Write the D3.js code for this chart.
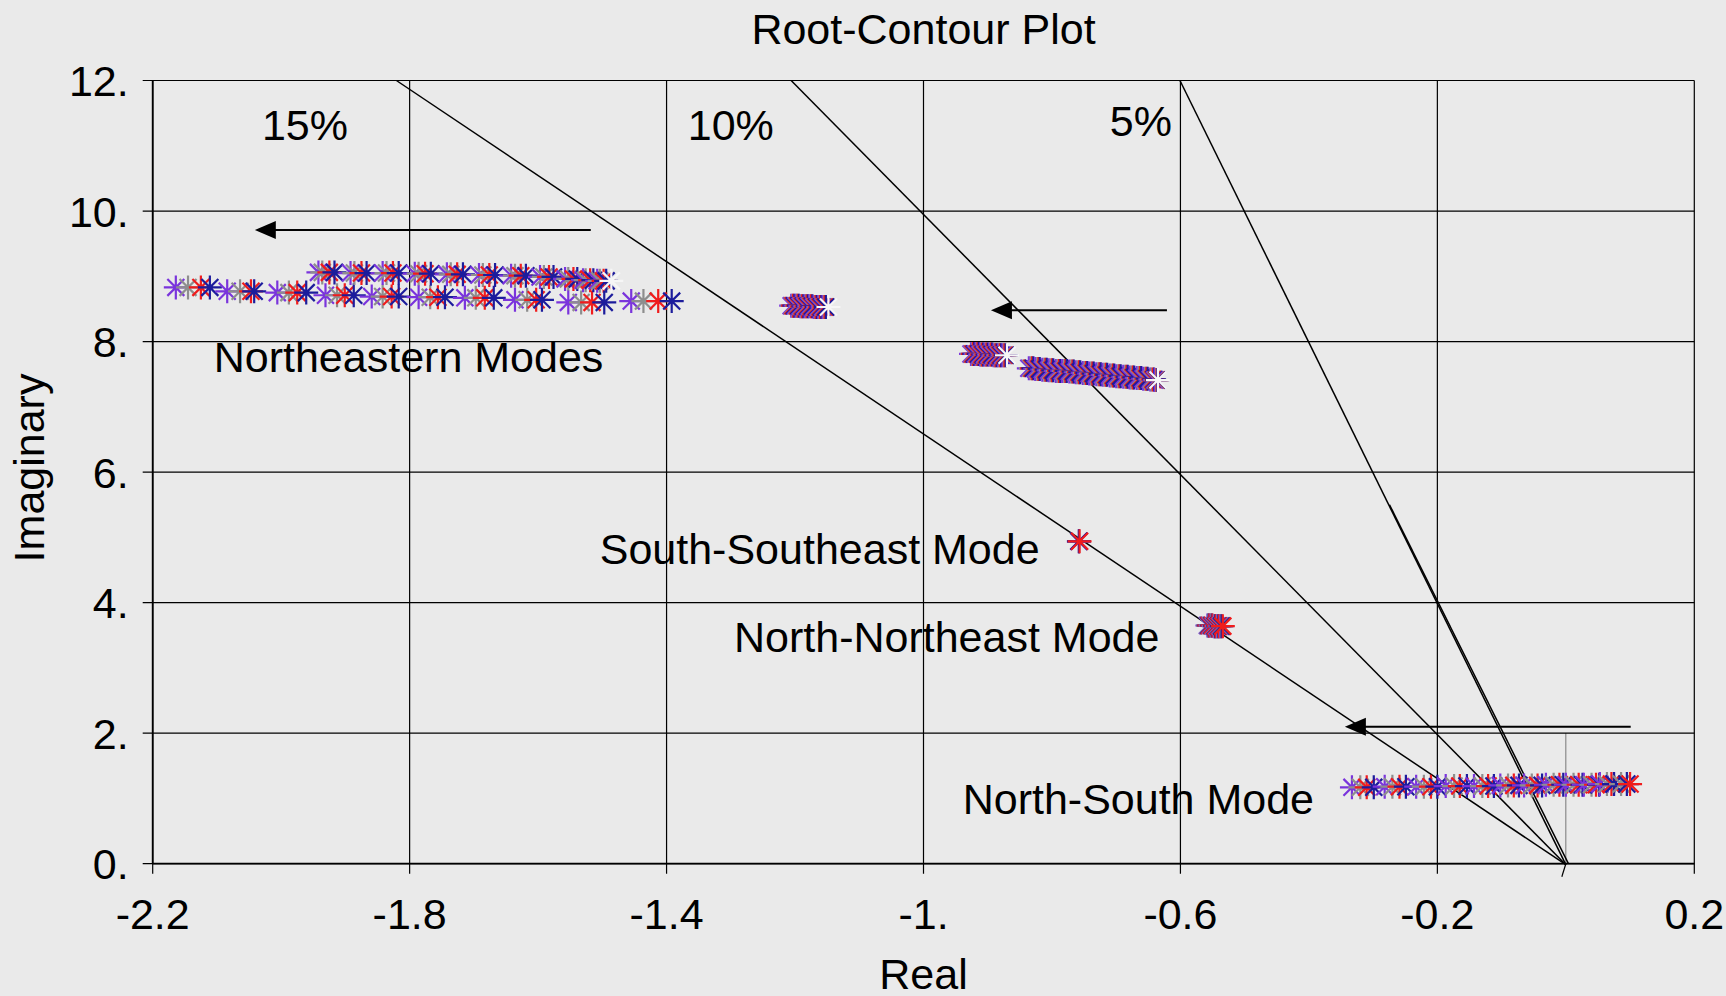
<!DOCTYPE html>
<html>
<head>
<meta charset="utf-8">
<script src="https://cdn.jsdelivr.net/npm/d3@7"></script>
<style>
  html, body { margin: 0; padding: 0; background: #eaeaea; }
  svg { display: block; }
  text { font-family: "Liberation Sans", Arial, sans-serif; fill: #000; }
</style>
</head>
<body>
<svg id="chart" width="1726" height="996"></svg>
<script>
// ---- axis ticks ----
const xTickValues = [-2.2, -1.8, -1.4, -1.0, -0.6, -0.2, 0.2];
const xTickLabels = ["-2.2", "-1.8", "-1.4", "-1.", "-0.6", "-0.2", "0.2"];
const yTickValues = [0, 2, 4, 6, 8, 10, 12];
const yTickLabels = ["0.", "2.", "4.", "6.", "8.", "10.", "12."];

// constant damping-ratio rays
const dampingRatios = [0.05, 0.10, 0.15];
// second trace running alongside the 5% ray near the origin
const ray5bStart = [0.004, 0.0];
const ray5bEnd = [-0.2745, 5.5];
// short marker line on the imaginary axis
const imagAxisTop = 2.0;

// ---- eigenvalue loci, one imaginary array per cluster and one real array per case ----
// Northeastern modes, lower branch
const neLowIm  = [8.83, 8.77, 8.75, 8.71, 8.69, 8.68, 8.67, 8.64, 8.60, 8.62];
const neLowReA = [-2.164, -2.084, -2.006, -1.931, -1.859, -1.786, -1.714, -1.636, -1.553, -1.455];
const neLowReB = [-2.145, -2.064, -1.988, -1.913, -1.842, -1.768, -1.697, -1.617, -1.533, -1.436];
const neLowReC = [-2.125, -2.047, -1.975, -1.901, -1.828, -1.756, -1.683, -1.603, -1.516, -1.413];
const neLowReD = [-2.111, -2.042, -1.961, -1.887, -1.817, -1.745, -1.669, -1.594, -1.497, -1.392];

// Northeastern modes, upper branch
const neUpIm  = [9.06, 9.05, 9.05, 9.04, 9.03, 9.02, 9.01, 8.99, 8.96, 8.94, 8.93];
const neUpReA = [-1.942, -1.892, -1.842, -1.792, -1.742, -1.692, -1.642, -1.597, -1.558, -1.530, -1.508];
const neUpReB = [-1.936, -1.886, -1.836, -1.786, -1.736, -1.686, -1.636, -1.591, -1.553, -1.526, -1.504];
const neUpReC = [-1.925, -1.875, -1.826, -1.776, -1.726, -1.676, -1.627, -1.583, -1.545, -1.519, -1.498];
const neUpReD = [-1.917, -1.867, -1.817, -1.767, -1.717, -1.667, -1.619, -1.576, -1.539, -1.514, -1.494];

// mode near 8.5 rad/s
const m85Im  = [8.55, 8.55, 8.54, 8.54, 8.54, 8.53, 8.53, 8.53];
const m85ReA = [-1.206, -1.199, -1.192, -1.185, -1.178, -1.171, -1.164, -1.157];
const m85ReB = [-1.204, -1.197, -1.190, -1.183, -1.176, -1.169, -1.162, -1.155];
const m85ReC = [-1.203, -1.196, -1.189, -1.182, -1.175, -1.168, -1.161, -1.154];
const m85ReD = [-1.201, -1.194, -1.187, -1.180, -1.173, -1.166, -1.159, -1.152];

// mode near 7.8 rad/s
const m78Im  = [7.81, 7.81, 7.80, 7.80, 7.80, 7.79, 7.79, 7.79];
const m78ReA = [-0.926, -0.919, -0.912, -0.905, -0.898, -0.891, -0.884, -0.877];
const m78ReB = [-0.924, -0.917, -0.910, -0.903, -0.896, -0.889, -0.882, -0.875];
const m78ReC = [-0.923, -0.916, -0.909, -0.902, -0.895, -0.888, -0.881, -0.874];
const m78ReD = [-0.921, -0.914, -0.907, -0.900, -0.893, -0.886, -0.879, -0.872];

// mode sweeping from 7.6 down to 7.4 rad/s
const m75Im  = [7.59, 7.58, 7.57, 7.56, 7.55, 7.55, 7.54, 7.53, 7.52, 7.51, 7.50, 7.49, 7.48, 7.47, 7.46, 7.45, 7.44, 7.43, 7.42, 7.41];
const m75ReA = [-0.836, -0.826, -0.815, -0.805, -0.794, -0.784, -0.773, -0.763, -0.752, -0.742, -0.731, -0.721, -0.710, -0.700, -0.689, -0.679, -0.668, -0.658, -0.647, -0.640];
const m75ReB = [-0.833, -0.823, -0.812, -0.802, -0.791, -0.781, -0.770, -0.760, -0.749, -0.739, -0.728, -0.718, -0.707, -0.697, -0.686, -0.676, -0.665, -0.655, -0.645, -0.638];
const m75ReC = [-0.831, -0.821, -0.810, -0.800, -0.789, -0.779, -0.768, -0.758, -0.747, -0.737, -0.726, -0.716, -0.705, -0.695, -0.684, -0.674, -0.663, -0.653, -0.643, -0.637];
const m75ReD = [-0.829, -0.819, -0.808, -0.798, -0.787, -0.777, -0.766, -0.756, -0.745, -0.735, -0.724, -0.714, -0.703, -0.693, -0.682, -0.672, -0.661, -0.651, -0.641, -0.636];

// South-Southeast mode
const sseIm  = [4.94];
const sseReA = [-0.758];
const sseReB = [-0.758];
const sseReC = [-0.757];
const sseReD = [-0.758];

// North-Northeast mode
const nneIm  = [3.65, 3.65, 3.64, 3.64, 3.64];
const nneReA = [-0.558, -0.553, -0.548, -0.543, -0.538];
const nneReB = [-0.557, -0.552, -0.547, -0.542, -0.537];
const nneReC = [-0.555, -0.550, -0.545, -0.540, -0.534];
const nneReD = [-0.556, -0.551, -0.546, -0.541, -0.536];

// North-South mode
const nsIm  = [1.17, 1.18, 1.18, 1.19, 1.19, 1.20, 1.20, 1.21, 1.21, 1.21, 1.22, 1.22];
const nsReA = [-0.333, -0.282, -0.233, -0.187, -0.143, -0.102, -0.065, -0.031, 0.000, 0.028, 0.053, 0.075];
const nsReB = [-0.320, -0.270, -0.221, -0.174, -0.130, -0.090, -0.053, -0.019, 0.012, 0.040, 0.064, 0.086];
const nsReC = [-0.310, -0.259, -0.210, -0.165, -0.121, -0.081, -0.044, -0.010, 0.020, 0.047, 0.071, 0.100];
const nsReD = [-0.299, -0.249, -0.200, -0.154, -0.112, -0.073, -0.037, -0.004, 0.026, 0.052, 0.075, 0.095];

// base-case eigenvalues at the start of each sweep
const baseRe = [-1.486, -1.148, -0.870, -0.635];
const baseIm = [8.93, 8.53, 7.79, 7.41];

// ---- annotations ----
const dampingLabels = ["15%", "10%", "5%"];
const dampingLabelRe = [-2.030, -1.367, -0.710];
const dampingLabelIm = [11.09, 11.09, 11.15];

const modeLabels = ["Northeastern Modes", "South-Southeast Mode", "North-Northeast Mode", "North-South Mode"];
const modeLabelRe = [-2.105, -1.504, -1.295, -0.939];
const modeLabelIm = [7.53, 4.59, 3.24, 0.765];

// arrows: tail real, head real, imaginary level
const arrowFromRe = [-1.518, -0.621, 0.101];
const arrowToRe   = [-2.041, -0.895, -0.344];
const arrowIm     = [9.71, 8.48, 2.10];

// ---- assemble the cases ----
const zip = (re, im, color) => re.map((r, i) => ({ re: r, im: im[i], color }));
const clusterIm = [neLowIm, neUpIm, m85Im, m78Im, m75Im, sseIm, nneIm, nsIm];
const caseA = [neLowReA, neUpReA, m85ReA, m78ReA, m75ReA, sseReA, nneReA, nsReA];
const caseB = [neLowReB, neUpReB, m85ReB, m78ReB, m75ReB, sseReB, nneReB, nsReB];
const caseC = [neLowReC, neUpReC, m85ReC, m78ReC, m75ReC, sseReC, nneReC, nsReC];
const caseD = [neLowReD, neUpReD, m85ReD, m78ReD, m75ReD, sseReD, nneReD, nsReD];
const flat = (cs, color) => cs.flatMap((re, k) => zip(re, clusterIm[k], color));

const colorA = "#7a34dc", colorB = "#8e8e8e", colorC = "#f01c1c", colorD = "#1c1c9c", colorBase = "#f6f6f6";
// markers are stacked from left to right so each one overlaps its left neighbour
const allPoints = [
  ...flat(caseB, colorB),
  ...flat(caseA, colorA),
  ...flat(caseD, colorD),
  ...flat(caseC, colorC),
  ...zip(baseRe, baseIm, colorBase)
].map((p, i) => ({ ...p, order: i }))
 .sort((a, b) => (a.re - b.re) || (a.order - b.order));

// ---- layout ----
const svg = d3.select("#chart");
const plot = { left: 152.7, right: 1694.3, top: 80.5, bottom: 863.7 };
const x = d3.scaleLinear().domain([-2.2, 0.2]).range([plot.left, plot.right]);
const y = d3.scaleLinear().domain([0, 12]).range([plot.bottom, plot.top]);
const FONT = 43;

// grid
const grid = svg.append("g").attr("stroke", "#000").attr("stroke-width", 1.2);
grid.selectAll("line.v").data(xTickValues).join("line")
  .attr("x1", d => x(d)).attr("x2", d => x(d))
  .attr("y1", y(12)).attr("y2", y(0) + 10);
grid.append("line")
  .attr("x1", x(0)).attr("x2", x(0)).attr("y1", y(imagAxisTop)).attr("y2", y(0))
  .attr("stroke", "#777").attr("stroke-width", 1);
grid.selectAll("line.h").data(yTickValues).join("line")
  .attr("x1", x(-2.2) - 10).attr("x2", x(0.2))
  .attr("y1", d => y(d)).attr("y2", d => y(d));
svg.append("line").attr("stroke", "#000").attr("stroke-width", 1.8)
  .attr("x1", x(-2.2)).attr("x2", x(0.2)).attr("y1", y(0)).attr("y2", y(0));
svg.append("line").attr("stroke", "#000").attr("stroke-width", 1.8)
  .attr("x1", x(-2.2)).attr("x2", x(-2.2)).attr("y1", y(0)).attr("y2", y(12));

// tick labels
svg.append("g").selectAll("text").data(xTickValues).join("text")
  .attr("x", d => x(d)).attr("y", y(0) + 65)
  .attr("text-anchor", "middle").attr("font-size", FONT)
  .text((d, i) => xTickLabels[i]);
svg.append("g").selectAll("text").data(yTickValues).join("text")
  .attr("x", x(-2.2) - 24).attr("y", d => y(d)).attr("dy", "0.36em")
  .attr("text-anchor", "end").attr("font-size", FONT)
  .text((d, i) => yTickLabels[i]);

// title and axis titles
svg.append("text").attr("x", (plot.left + plot.right) / 2).attr("y", 44)
  .attr("text-anchor", "middle").attr("font-size", FONT).text("Root-Contour Plot");
svg.append("text").attr("x", (plot.left + plot.right) / 2).attr("y", 989)
  .attr("text-anchor", "middle").attr("font-size", FONT).text("Real");
svg.append("text").attr("transform", "translate(44,468) rotate(-90)")
  .attr("text-anchor", "middle").attr("font-size", FONT).text("Imaginary");

// damping rays from the origin up to the top of the plot
svg.append("g").attr("stroke", "#000").attr("stroke-width", 1.5)
  .selectAll("line").data(dampingRatios).join("line")
  .attr("x1", x(0)).attr("y1", y(0) + 1)
  .attr("x2", z => x(-12 * z / Math.sqrt(1 - z * z))).attr("y2", y(12));
svg.append("line").attr("stroke", "#000").attr("stroke-width", 1.5)
  .attr("x1", x(ray5bStart[0])).attr("y1", y(ray5bStart[1]))
  .attr("x2", x(ray5bEnd[0])).attr("y2", y(ray5bEnd[1]));
svg.append("line").attr("stroke", "#000").attr("stroke-width", 1.2)
  .attr("x1", x(0)).attr("y1", y(0)).attr("x2", x(0) - 4).attr("y2", y(0) + 13);

// asterisk markers
const R = 12, Dg = R * 0.707;
const star = `M${-R},0L${R},0M0,${-R}L0,${R}M${-Dg},${-Dg}L${Dg},${Dg}M${-Dg},${Dg}L${Dg},${-Dg}`;
svg.append("g").attr("fill", "none").attr("stroke-width", 2.2)
  .selectAll("path").data(allPoints).join("path")
  .attr("stroke", d => d.color)
  .attr("transform", d => `translate(${x(d.re)},${y(d.im)})`)
  .attr("d", star);

// arrows
const arrows = svg.append("g");
arrowIm.forEach((im, i) => {
  const x0 = x(arrowFromRe[i]), x1 = x(arrowToRe[i]), yy = y(im);
  arrows.append("line").attr("x1", x0).attr("x2", x1 + 18).attr("y1", yy).attr("y2", yy)
    .attr("stroke", "#000").attr("stroke-width", 2);
  arrows.append("path").attr("fill", "#000")
    .attr("d", `M${x1},${yy}L${x1 + 21},${yy - 9}L${x1 + 21},${yy + 9}Z`);
});

// damping labels and mode labels
svg.append("g").selectAll("text").data(dampingLabels).join("text")
  .attr("x", (d, i) => x(dampingLabelRe[i])).attr("y", (d, i) => y(dampingLabelIm[i]))
  .attr("font-size", FONT).text(d => d);
svg.append("g").selectAll("text").data(modeLabels).join("text")
  .attr("x", (d, i) => x(modeLabelRe[i])).attr("y", (d, i) => y(modeLabelIm[i]))
  .attr("font-size", FONT).text(d => d);
</script>
</body>
</html>
